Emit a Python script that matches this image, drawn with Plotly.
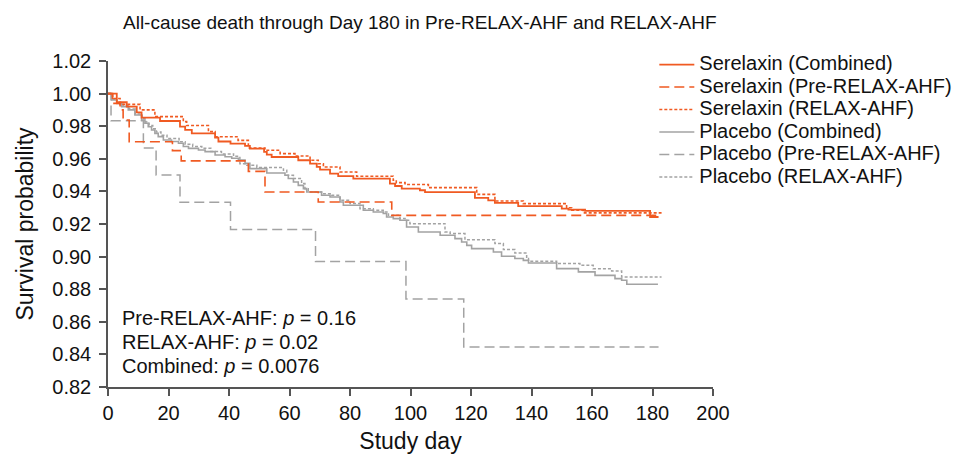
import plotly.graph_objects as go

# ---------------- data ----------------
ser_comb_day = [0, 2.9, 6.2, 9.5, 11.1, 17.2, 23.8, 25.5, 27.7, 35.4, 36.5, 40.5, 45.3, 46.9, 51.6, 52.5,
                54.1, 62.9, 66.8, 69.0, 70.1, 73.4, 76.1, 81.1, 93.2, 94.9, 97.1, 103.1, 104.8, 121.3,
                125.7, 127.9, 135.6, 150.0, 152.2, 157.7, 179.2, 182]
ser_comb_surv = [1.0, 0.9947, 0.992, 0.9885, 0.9853, 0.9832, 0.9797, 0.9777, 0.9756, 0.973, 0.9706, 0.9693,
                 0.9679, 0.9662, 0.9642, 0.9626, 0.9611, 0.9591, 0.957, 0.955, 0.9534, 0.9509, 0.9494,
                 0.9478, 0.9448, 0.9433, 0.9417, 0.9407, 0.9396, 0.936, 0.9345, 0.9329, 0.931, 0.9294,
                 0.9288, 0.928, 0.9243, 0.9243]

ser_pre_day = [0, 1.5, 4.0, 5.0, 7.0, 21.3, 24.2, 46.4, 51.9, 69.5, 93.8, 182]
ser_pre_surv = [1.0, 0.994, 0.99, 0.9838, 0.9705, 0.965, 0.9587, 0.9523, 0.9396, 0.9335, 0.9253, 0.9253]

ser_relax_day = [0, 1.5, 4.0, 10.6, 15.5, 24.9, 26.0, 33.2, 35.4, 43.0, 46.4, 51.9, 56.9, 61.8, 66.8,
                 69.5, 71.2, 76.7, 82.2, 94.3, 95.3, 98.2, 105.9, 121.9, 127.9, 137.3, 151.6, 153.3,
                 157.1, 183]
ser_relax_surv = [1.0, 0.997, 0.9934, 0.99, 0.9859, 0.9828, 0.9804, 0.9767, 0.9735, 0.9713, 0.9666,
                  0.9652, 0.9632, 0.9617, 0.9591, 0.957, 0.955, 0.9519, 0.9493, 0.9468, 0.9454, 0.9442,
                  0.9423, 0.9382, 0.9341, 0.9325, 0.93, 0.9284, 0.9268, 0.9268]

pla_comb_day = [0, 1.2, 2.9, 4.5, 6.7, 8.9, 11.1, 12.2, 13.3, 14.4, 15.5, 16.6, 18.3, 21.0, 23.3, 24.9,
                26.6, 29.9, 32.1, 35.4, 38.7, 40.9, 43.1, 45.3, 46.9, 52.5, 58.5, 59.6, 61.3, 62.9, 64.6,
                65.7, 70.6, 73.4, 76.7, 77.8, 84.4, 87.7, 91.0, 92.1, 94.3, 96.5, 98.7, 102.6, 109.8,
                114.7, 116.9, 118.6, 120.2, 127.4, 130.1, 134.5, 137.3, 139.0, 148.3, 155.5, 161.0,
                167.6, 169.8, 171.5, 181.8]
pla_comb_surv = [1.0, 0.9961, 0.994, 0.992, 0.99, 0.9869, 0.9838, 0.9818, 0.9797, 0.9777, 0.9756, 0.9736,
                 0.9715, 0.9706, 0.9695, 0.9675, 0.9664, 0.9654, 0.9644, 0.9623, 0.9613, 0.9603, 0.9593,
                 0.9572, 0.954, 0.9513, 0.9499, 0.9479, 0.9458, 0.9437, 0.9417, 0.9396, 0.9376, 0.9366,
                 0.9335, 0.9315, 0.9284, 0.9274, 0.9264, 0.9243, 0.9233, 0.9223, 0.9182, 0.9151, 0.9131,
                 0.911, 0.909, 0.9069, 0.9049, 0.9028, 0.9002, 0.8988, 0.8977, 0.8961, 0.8926, 0.8906,
                 0.8885, 0.8865, 0.8855, 0.883, 0.883]

pla_pre_day = [0, 1.0, 11.7, 15.9, 23.8, 40.5, 68.6, 98.5, 117.6, 182]
pla_pre_surv = [1.0, 0.9833, 0.9667, 0.95, 0.9333, 0.9167, 0.897, 0.874, 0.8445, 0.8445]

pla_relax_day = [0, 1.5, 3.0, 5.0, 7.0, 9.0, 11.3, 12.5, 13.6, 14.8, 16.0, 17.5, 19.5, 23.5, 25.5, 28.0,
                 31.0, 34.0, 37.5, 41.5, 43.6, 45.9, 49.2, 58.0, 59.1, 61.3, 64.0, 65.1, 66.2, 70.6, 74.0,
                 76.7, 80.0, 83.3, 87.7, 91.0, 92.7, 96.5, 98.2, 99.8, 111.4, 113.1, 118.0, 127.9, 130.7,
                 134.5, 138.4, 139.0, 148.3, 156.0, 160.4, 166.5, 169.8, 183]
pla_relax_surv = [1.0, 0.9965, 0.9945, 0.9925, 0.9905, 0.9875, 0.9845, 0.9825, 0.9805, 0.9785, 0.9765,
                  0.9745, 0.9725, 0.9705, 0.969, 0.9675, 0.9665, 0.9645, 0.963, 0.9615, 0.957, 0.956,
                  0.9546, 0.9529, 0.9499, 0.9479, 0.9448, 0.9417, 0.9396, 0.9386, 0.9376, 0.9345, 0.9325,
                  0.9294, 0.9284, 0.9274, 0.9253, 0.9233, 0.9223, 0.9202, 0.9151, 0.9141, 0.9104, 0.908,
                  0.9043, 0.9022, 0.8988, 0.8971, 0.8957, 0.8947, 0.8926, 0.8912, 0.8875, 0.8875]

series_names = ["Serelaxin (Combined)", "Serelaxin (Pre-RELAX-AHF)", "Serelaxin (RELAX-AHF)",
                "Placebo (Combined)", "Placebo (Pre-RELAX-AHF)", "Placebo (RELAX-AHF)"]

p_value_lines = ["Pre-RELAX-AHF: <i>p</i> = 0.16", "RELAX-AHF: <i>p</i> = 0.02", "Combined: <i>p</i> = 0.0076"]

x_ticks = [0, 20, 40, 60, 80, 100, 120, 140, 160, 180, 200]
y_ticks = [0.82, 0.84, 0.86, 0.88, 0.90, 0.92, 0.94, 0.96, 0.98, 1.00, 1.02]

# ---------------- styling ----------------
ORANGE = "#F05A22"
GRAY = "#A3A3A3"
FONT = "Liberation Sans, Arial, Helvetica, sans-serif"

series = [
    (ser_comb_day, ser_comb_surv, ORANGE, "solid", 1.8),
    (ser_pre_day, ser_pre_surv, ORANGE, "10px,5px", 1.6),
    (ser_relax_day, ser_relax_surv, ORANGE, "3px,2px", 1.6),
    (pla_comb_day, pla_comb_surv, GRAY, "solid", 1.6),
    (pla_pre_day, pla_pre_surv, GRAY, "10px,5px", 1.5),
    (pla_relax_day, pla_relax_surv, GRAY, "3px,2px", 1.5),
]

fig = go.Figure()
draw_order = [4, 5, 3, 1, 2, 0]
traces = {}
for i, (d, s, col, dash, w) in enumerate(series):
    traces[i] = go.Scatter(
        x=d, y=s, mode="lines", line=dict(color=col, dash=dash, width=w, shape="hv"),
        name='<span style="font-size:20px">' + series_names[i] + "</span>",
        legendrank=i + 1, hoverinfo="skip",
    )
for i in draw_order:
    fig.add_trace(traces[i])

ann_y = [0.8621, 0.8474, 0.8327]
for txt, yy in zip(p_value_lines, ann_y):
    fig.add_annotation(x=4.0, y=yy, xref="x", yref="y", text=txt, showarrow=False,
                       xanchor="left", yanchor="middle", font=dict(size=20, color="#111", family=FONT))

fig.update_layout(
    width=962, height=456,
    margin=dict(l=108, r=249, t=61, b=69, autoexpand=False),
    paper_bgcolor="white", plot_bgcolor="white",
    font=dict(family=FONT, color="#111"),
    title=dict(text="All-cause death through Day 180 in Pre-RELAX-AHF and RELAX-AHF",
               x=0.0248, xref="paper", xanchor="left", yref="container", y=0.952, yanchor="middle",
               font=dict(size=19, family=FONT, color="#111")),
    legend=dict(x=0.903, xanchor="left", y=1.039, yanchor="top", font=dict(size=15, family=FONT, color="#111"),
                bgcolor="rgba(0,0,0,0)", itemwidth=35, tracegroupgap=0, traceorder="normal"),
    showlegend=True,
)

fig.update_xaxes(range=[0, 200], tickvals=x_ticks, ticktext=[str(v) for v in x_ticks],
                 showline=True, linecolor="#555", linewidth=1.5, ticks="outside", ticklen=7,
                 tickcolor="#555", tickwidth=1.5, showgrid=False, zeroline=False, automargin=False,
                 tickfont=dict(size=20, family=FONT, color="#111"),
                 title=dict(text="Study day", font=dict(size=23, family=FONT, color="#111"), standoff=10))
fig.update_yaxes(range=[0.82, 1.02], tickvals=y_ticks, ticktext=[f"{v:.2f}" for v in y_ticks],
                 showline=True, linecolor="#555", linewidth=1.5, ticks="outside", ticklen=7,
                 tickcolor="#555", tickwidth=1.5, showgrid=False, zeroline=False, automargin=False,
                 ticklabelstandoff=4,
                 tickfont=dict(size=20, family=FONT, color="#111"),
                 title=dict(text="Survival probability", font=dict(size=23, family=FONT, color="#111"),
                            standoff=12))

fig.write_html("out.html", config={"displayModeBar": False},
               post_script="document.body.style.margin='0px';")
